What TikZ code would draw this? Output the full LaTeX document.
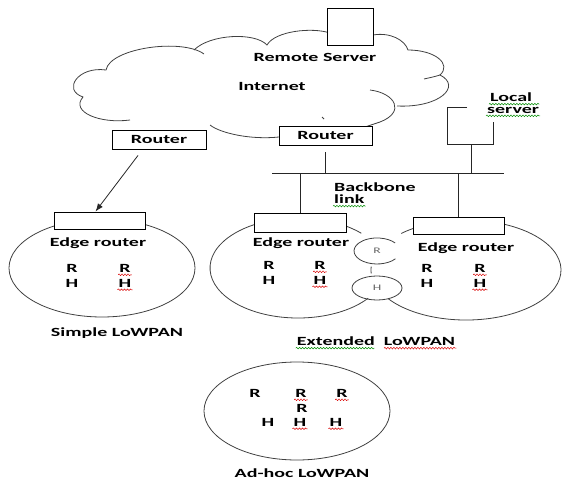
\documentclass[tikz,border=0pt]{standalone}
\usepackage{fontspec}
\setmainfont{Carlito}[FakeStretch=1.6]
\usepackage{tikz}
\usetikzlibrary{arrows.meta,calc,positioning,decorations.pathmorphing}

\begin{document}
\begin{tikzpicture}[x=1pt,y=-1pt,>=Latex,
  kasten/.style={draw,line width=0.9pt,fill=white,inner sep=0pt},
  txt/.style={font=\bfseries\fontsize{12.5}{14}\selectfont,inner sep=1pt},
  klein/.style={font=\fontsize{8.5}{10}\selectfont,text=black!60,inner sep=0pt},
  linie/.style={line width=0.8pt,black!85},
  rund/.style={line width=0.8pt,black!75},
  gruen/.style={green!55!black,line width=0.5pt,decorate,
    decoration={snake,amplitude=0.8pt,segment length=3pt}},
  rot/.style={gruen,red!85!black}]
  \useasboundingbox (0,0) rectangle (563,479);

  % Wolke (Internet)
  \draw[rund] (130,120) .. controls (100,124) and (70,112) .. (83,97)
    .. controls (62,90) and (78,66) .. (106,70)
    .. controls (110,48) and (182,38) .. (204,54);
  \draw[rund] (194,50) .. controls (210,34) and (255,32) .. (267,45)
    .. controls (275,31) and (312,27) .. (330,33);
  \draw[rund] (373,35) .. controls (390,32) and (405,40) .. (408,50)
    .. controls (435,50) and (452,64) .. (440,75)
    .. controls (462,86) and (440,108) .. (397,106);
  \draw[rund] (440,75) .. controls (434,77) and (428,78) .. (424,79);
  \draw[rund] (370,90) .. controls (395,93) and (406,112) .. (380,122)
    -- (365,127);
  \draw[rund] (279,137) .. controls (250,140) and (220,133) .. (210,125);
  \draw[rund] (322,117) -- (324,119);

  \node[kasten,minimum width=46,minimum height=37] (remote) at (350,26.5) {};
  \node[txt] (rstext) at (315,57) {Remote Server};
  \node[txt] (inet) at (272,86) {Internet};
  \node[kasten,txt,minimum width=94,minimum height=19] (lrouter) at (159,139.5) {Router};
  \node[kasten,txt,minimum width=93,minimum height=19] (mrouter) at (325.5,135.5) {Router};

  % lokaler Server und Backbone
  \coordinate (bbL) at (272,173);
  \coordinate (bbR) at (504,173);
  \coordinate (lserver) at (471,144);
  \draw[linie] (bbL) -- (bbR);
  \draw[linie] (lserver) ++(-4,-37) -- ++(-20,0) -- ++(0,37) -- ++(46,0) -- ++(0,-22);
  \draw[linie] (lserver) -- (lserver |- bbL);
  \draw[linie] ([yshift=-7pt]mrouter.south) -- (mrouter.south |- bbL);
  \node[txt,anchor=west] (local) at (489,97) {Local};
  \node[txt,anchor=west] (server) at (486,110) {server};
  \draw[gruen] ([yshift=-1.5pt]local.south west) -- ([xshift=6pt,yshift=-1.5pt]local.south east);
  \draw[gruen] ([yshift=-1.5pt]server.south west) -- ([yshift=-1.5pt]server.south east);
  \node[txt,anchor=west] (backbone) at (333,187) {Backbone};
  \node[txt,anchor=west] (link) at (333,199) {link};
  \draw[gruen] ([yshift=-1.5pt]link.south west) -- ([yshift=-1.5pt]link.south east);

  % Simple LoWPAN
  \draw[rund] (102,268) ellipse[x radius=93,y radius=49];
  \node[kasten,minimum width=91,minimum height=17] (sbox) at (99.5,220.5) {};
  \draw[linie,->,>={Latex[length=8pt,width=6pt]}] ([xshift=-21pt,yshift=-6pt]lrouter.south) -- ([xshift=-4pt]sbox.north);
  \node[txt] (sedge) at (98,243) {Edge router};
  \node[txt] (sR1) at (72,268) {R};
  \node[txt] (sR2) at (125,268) {R};
  \node[txt] (sH1) at (72,283) {H};
  \node[txt] (sH2) at (125,283) {H};
  \draw[rot] ([yshift=-1.5pt]sR2.south west) -- ([yshift=-1.5pt]sR2.south east);
  \draw[rot] ([yshift=-1.5pt]sH2.south west) -- ([yshift=-1.5pt]sH2.south east);
  \node[txt] (simple) at (117,333) {Simple LoWPAN};

  % Extended LoWPAN
  \draw[rund] (368.3,298.1) arc[start angle=37,end angle=316,x radius=88,y radius=50];
  \draw[rund] (388.2,298.7) arc[start angle=145,end angle=-133,x radius=95,y radius=50];
  \draw[rund] (371.2,273.5) arc[start angle=176,end angle=184,x radius=95,y radius=50];
  \draw[rund] (395.4,258.8) arc[start angle=37,end angle=322,x radius=23,y radius=13];
  \draw[rund] (377,288) ellipse[x radius=25,y radius=12];
  \node[klein] (rknoten) at (377,251) {R};
  \node[klein] (hknoten) at (377,288) {H};
  \node[kasten,minimum width=92,minimum height=19] (ebox1) at (300,222.5) {};
  \node[kasten,minimum width=91,minimum height=17] (ebox2) at (458.5,225.5) {};
  \draw[linie] (ebox1.north) -- (ebox1.north |- bbL);
  \draw[linie] (ebox2.north) -- (ebox2.north |- bbL);
  \node[txt] (eedge1) at (301,243) {Edge router};
  \node[txt] (eR1) at (269,265) {R};
  \node[txt] (eR2) at (320,265) {R};
  \node[txt] (eH1) at (269,280) {H};
  \node[txt] (eH2) at (320,280) {H};
  \draw[rot] ([yshift=-1.5pt]eR2.south west) -- ([yshift=-1.5pt]eR2.south east);
  \draw[rot] ([yshift=-1.5pt]eH2.south west) -- ([yshift=-1.5pt]eH2.south east);
  \node[txt] (eedge2) at (466,248) {Edge router};
  \node[txt] (fR1) at (427,268) {R};
  \node[txt] (fR2) at (480,268) {R};
  \node[txt] (fH1) at (427,283) {H};
  \node[txt] (fH2) at (480,283) {H};
  \draw[rot] ([yshift=-1.5pt]fR2.south west) -- ([yshift=-1.5pt]fR2.south east);
  \draw[rot] ([yshift=-1.5pt]fH2.south west) -- ([yshift=-1.5pt]fH2.south east);
  \node[txt] (extended) at (376,341) {Extended\ \ LoWPAN};
  \draw[gruen] ([yshift=-1.5pt]extended.south west) -- ([yshift=-1.5pt]$(extended.south west)!0.49!(extended.south east)$);
  \draw[rot] ([yshift=-1.5pt]$(extended.south west)!0.55!(extended.south east)$) -- ([yshift=-1.5pt]extended.south east);

  % Ad-hoc LoWPAN
  \draw[rund] (297,411) ellipse[x radius=93,y radius=49];
  \node[txt] (aR1) at (255,393) {R};
  \node[txt] (aR2) at (301,393) {R};
  \node[txt] (aR3) at (342,393) {R};
  \node[txt] (aR4) at (302,408) {R};
  \node[txt] (aH1) at (268,422) {H};
  \node[txt] (aH2) at (300,422) {H};
  \node[txt] (aH3) at (336,422) {H};
  \foreach \n in {aR2,aR3,aH2,aH3}
    \draw[rot] ([yshift=-1.5pt]\n.south west) -- ([yshift=-1.5pt]\n.south east);
  \node[txt] (adhoc) at (302,473) {Ad-hoc LoWPAN};
\end{tikzpicture}
\end{document}
